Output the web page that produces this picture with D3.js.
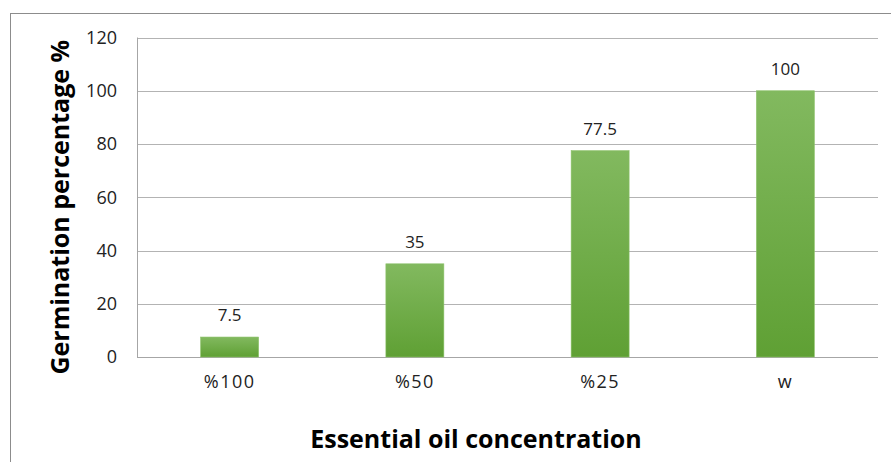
<!DOCTYPE html>
<html>
<head>
<meta charset="utf-8">
<script src="https://cdn.jsdelivr.net/npm/d3@7"></script>
<style>
  body { margin: 0; background: #fff; }
  svg { display: block; }
</style>
</head>
<body>
<svg id="chart" width="891" height="462"></svg>
<script>
const categories = ["%100", "%50", "%25", "w"];
const germination = [7.5, 35, 77.5, 100];
const yTicks = [0, 20, 40, 60, 80, 100, 120];

const svg = d3.select("#chart");
const W = 891, H = 462;
const plot = { left: 137, right: 878, top: 37.5, bottom: 357 };
const font = "'Open Sans', sans-serif";

// chart frame (open at right and bottom)
svg.append("rect")
  .attr("x", 10.5).attr("y", 13.5)
  .attr("width", W).attr("height", H)
  .attr("fill", "#fff").attr("stroke", "#8c8c8c").attr("stroke-width", 1);

const x = d3.scaleBand()
  .domain(categories)
  .range([plot.left, plot.right])
  .paddingInner(0.687).paddingOuter(0.3435);

const y = d3.scaleLinear().domain([0, 120]).range([plot.bottom, plot.top]);

const defs = svg.append("defs");
const grad = defs.append("linearGradient").attr("id", "barFill")
  .attr("x1", 0).attr("y1", 0).attr("x2", 0).attr("y2", 1);
grad.append("stop").attr("offset", "0%").attr("stop-color", "#82b95f");
grad.append("stop").attr("offset", "100%").attr("stop-color", "#5fa034");

// gridlines
svg.append("g")
  .selectAll("line").data(yTicks).join("line")
  .attr("x1", plot.left).attr("x2", plot.right)
  .attr("y1", d => Math.round(y(d)) + 0.5).attr("y2", d => Math.round(y(d)) + 0.5)
  .attr("stroke", d => d === 0 ? "#a6a6a6" : "#b3b3b3").attr("stroke-width", 1);

// y axis line
svg.append("line")
  .attr("x1", plot.left + 0.5).attr("x2", plot.left + 0.5)
  .attr("y1", plot.top).attr("y2", plot.bottom)
  .attr("stroke", "#a6a6a6");

// y tick labels via axis
const yAxis = svg.append("g")
  .attr("transform", `translate(${plot.left},0)`)
  .call(d3.axisLeft(y).tickValues(yTicks).tickSize(0).tickPadding(20));
yAxis.select(".domain").remove();
yAxis.selectAll("text")
  .attr("font-family", font).attr("font-size", 18)
  .attr("fill", "#222");

// x tick labels via axis
const xAxis = svg.append("g")
  .attr("transform", `translate(0,${plot.bottom})`)
  .call(d3.axisBottom(x).tickSize(0).tickPadding(18));
xAxis.select(".domain").remove();
xAxis.selectAll("text")
  .attr("font-family", font).attr("font-size", 18)
  .attr("letter-spacing", 1.5)
  .attr("fill", "#222");

// bars
svg.append("g").selectAll("rect").data(germination).join("rect")
  .attr("x", (d, i) => x(categories[i]))
  .attr("width", x.bandwidth())
  .attr("y", d => y(d))
  .attr("height", d => y(0) - y(d))
  .attr("fill", "url(#barFill)")
  .attr("stroke", "#8cc26a").attr("stroke-width", 0.6);

// value labels
svg.append("g").selectAll("text").data(germination).join("text")
  .attr("x", (d, i) => x(categories[i]) + x.bandwidth() / 2)
  .attr("y", d => y(d) - 16)
  .attr("text-anchor", "middle")
  .attr("font-family", font).attr("font-size", 17)
  .attr("fill", "#222")
  .text(d => d);

// axis titles
svg.append("text")
  .attr("transform", `translate(69,${(plot.top + plot.bottom) / 2 + 10}) rotate(-90)`)
  .attr("text-anchor", "middle")
  .attr("font-family", font).attr("font-size", 25).attr("font-weight", "bold")
  .attr("fill", "#000")
  .text("Germination percentage %");

svg.append("text")
  .attr("x", 476).attr("y", 448)
  .attr("text-anchor", "middle")
  .attr("font-family", font).attr("font-size", 25).attr("font-weight", "bold")
  .attr("fill", "#000")
  .text("Essential oil concentration");
</script>
</body>
</html>
